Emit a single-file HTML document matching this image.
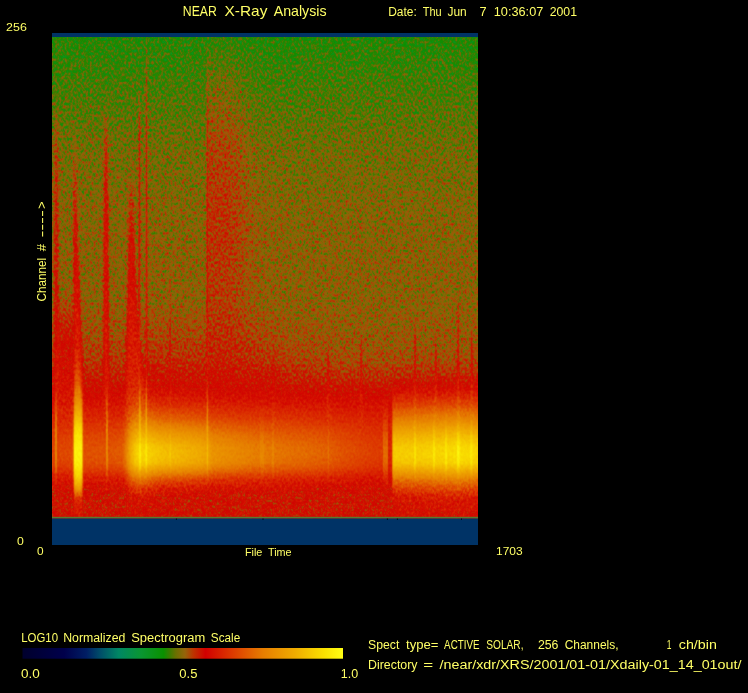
<!DOCTYPE html>
<html lang="en"><head><meta charset="utf-8"><title>NEAR X-Ray Analysis</title>
<style>
html,body{margin:0;padding:0;background:#000;width:748px;height:693px;overflow:hidden}
svg{display:block;position:absolute;left:0;top:0}
text{white-space:pre}
</style></head><body>
<svg width="748" height="693" viewBox="0 0 748 693">
<defs>
<linearGradient id="base" gradientUnits="userSpaceOnUse" x1="0" y1="33" x2="0" y2="545"><stop offset="0.0000" stop-color="rgb(113,64,0)"/><stop offset="0.0078" stop-color="rgb(113,64,0)"/><stop offset="0.0527" stop-color="rgb(115,64,0)"/><stop offset="0.1309" stop-color="rgb(119,64,0)"/><stop offset="0.2285" stop-color="rgb(124,61,0)"/><stop offset="0.3555" stop-color="rgb(127,56,0)"/><stop offset="0.5215" stop-color="rgb(128,54,0)"/><stop offset="0.5996" stop-color="rgb(130,54,0)"/><stop offset="0.6387" stop-color="rgb(132,51,0)"/><stop offset="0.6680" stop-color="rgb(137,46,0)"/><stop offset="0.6973" stop-color="rgb(144,41,0)"/><stop offset="0.7305" stop-color="rgb(152,33,0)"/><stop offset="0.7656" stop-color="rgb(156,26,0)"/><stop offset="0.7949" stop-color="rgb(158,23,0)"/><stop offset="0.8203" stop-color="rgb(159,23,0)"/><stop offset="0.8496" stop-color="rgb(156,26,0)"/><stop offset="0.8672" stop-color="rgb(150,36,0)"/><stop offset="0.8848" stop-color="rgb(147,56,0)"/><stop offset="0.9023" stop-color="rgb(145,66,0)"/><stop offset="0.9316" stop-color="rgb(145,64,0)"/><stop offset="0.9453" stop-color="rgb(145,51,0)"/><stop offset="1.0000" stop-color="rgb(145,51,0)"/></linearGradient>
<linearGradient id="L1v" gradientUnits="userSpaceOnUse" x1="0" y1="33" x2="0" y2="545"><stop offset="0.0000" stop-color="rgb(153,54,0)" stop-opacity="0.000"/><stop offset="0.0078" stop-color="rgb(153,54,0)" stop-opacity="0.100"/><stop offset="0.0723" stop-color="rgb(153,54,0)" stop-opacity="0.300"/><stop offset="0.1504" stop-color="rgb(153,54,0)" stop-opacity="0.500"/><stop offset="0.2285" stop-color="rgb(153,54,0)" stop-opacity="0.720"/><stop offset="0.3848" stop-color="rgb(153,54,0)" stop-opacity="0.800"/><stop offset="0.5605" stop-color="rgb(153,54,0)" stop-opacity="0.550"/><stop offset="0.6777" stop-color="rgb(153,54,0)" stop-opacity="0.300"/><stop offset="0.7559" stop-color="rgb(153,54,0)" stop-opacity="0.000"/><stop offset="1.0000" stop-color="rgb(153,54,0)" stop-opacity="0.000"/></linearGradient>
<linearGradient id="L1mg" gradientUnits="userSpaceOnUse" x1="52" y1="0" x2="478" y2="0"><stop offset="0.0000" stop-color="#fff" stop-opacity="0.000"/><stop offset="0.3603" stop-color="#fff" stop-opacity="0.000"/><stop offset="0.3650" stop-color="#fff" stop-opacity="0.500"/><stop offset="0.4131" stop-color="#fff" stop-opacity="0.500"/><stop offset="0.4413" stop-color="#fff" stop-opacity="0.340"/><stop offset="0.4648" stop-color="#fff" stop-opacity="0.180"/><stop offset="0.4930" stop-color="#fff" stop-opacity="0.070"/><stop offset="0.5822" stop-color="#fff" stop-opacity="0.000"/><stop offset="1.0000" stop-color="#fff" stop-opacity="0.000"/></linearGradient><mask id="L1m" maskUnits="userSpaceOnUse" x="52" y="33" width="426" height="512"><rect x="52" y="33" width="426" height="512" fill="url(#L1mg)"/></mask>
<linearGradient id="L2v" gradientUnits="userSpaceOnUse" x1="0" y1="33" x2="0" y2="545"><stop offset="0.0000" stop-color="rgb(158,43,0)" stop-opacity="0.000"/><stop offset="0.5215" stop-color="rgb(158,43,0)" stop-opacity="0.000"/><stop offset="0.6094" stop-color="rgb(158,43,0)" stop-opacity="0.250"/><stop offset="0.6680" stop-color="rgb(158,43,0)" stop-opacity="0.400"/><stop offset="0.7168" stop-color="rgb(158,43,0)" stop-opacity="0.200"/><stop offset="0.7559" stop-color="rgb(158,43,0)" stop-opacity="0.000"/><stop offset="1.0000" stop-color="rgb(158,43,0)" stop-opacity="0.000"/></linearGradient>
<linearGradient id="L2mg" gradientUnits="userSpaceOnUse" x1="52" y1="0" x2="478" y2="0"><stop offset="0.0000" stop-color="#fff" stop-opacity="0.500"/><stop offset="0.1714" stop-color="#fff" stop-opacity="0.500"/><stop offset="0.2300" stop-color="#fff" stop-opacity="0.800"/><stop offset="0.4883" stop-color="#fff" stop-opacity="0.700"/><stop offset="0.5822" stop-color="#fff" stop-opacity="0.300"/><stop offset="0.6761" stop-color="#fff" stop-opacity="0.100"/><stop offset="1.0000" stop-color="#fff" stop-opacity="0.000"/></linearGradient><mask id="L2m" maskUnits="userSpaceOnUse" x="52" y="33" width="426" height="512"><rect x="52" y="33" width="426" height="512" fill="url(#L2mg)"/></mask>
<linearGradient id="P3" gradientUnits="userSpaceOnUse" x1="0" y1="33" x2="0" y2="545"><stop offset="0.5020" stop-color="rgb(158,43,0)" stop-opacity="0.000"/><stop offset="0.5898" stop-color="rgb(158,43,0)" stop-opacity="0.450"/><stop offset="0.7559" stop-color="rgb(158,43,0)" stop-opacity="0.500"/><stop offset="0.7949" stop-color="rgb(158,43,0)" stop-opacity="0.000"/></linearGradient>
<linearGradient id="P4" gradientUnits="userSpaceOnUse" x1="0" y1="33" x2="0" y2="545"><stop offset="0.1211" stop-color="rgb(158,43,0)" stop-opacity="0.000"/><stop offset="0.2285" stop-color="rgb(158,43,0)" stop-opacity="0.400"/><stop offset="0.5215" stop-color="rgb(158,43,0)" stop-opacity="0.650"/><stop offset="0.7559" stop-color="rgb(158,43,0)" stop-opacity="0.800"/><stop offset="0.7949" stop-color="rgb(158,43,0)" stop-opacity="0.000"/></linearGradient>
<linearGradient id="P5" gradientUnits="userSpaceOnUse" x1="0" y1="33" x2="0" y2="545"><stop offset="0.1895" stop-color="rgb(158,43,0)" stop-opacity="0.000"/><stop offset="0.2871" stop-color="rgb(158,43,0)" stop-opacity="0.400"/><stop offset="0.4043" stop-color="rgb(158,43,0)" stop-opacity="0.650"/><stop offset="0.5801" stop-color="rgb(158,43,0)" stop-opacity="0.900"/><stop offset="0.7656" stop-color="rgb(158,43,0)" stop-opacity="1.000"/><stop offset="0.7949" stop-color="rgb(158,43,0)" stop-opacity="0.000"/></linearGradient>
<linearGradient id="P6" gradientUnits="userSpaceOnUse" x1="0" y1="33" x2="0" y2="545"><stop offset="0.1309" stop-color="rgb(158,43,0)" stop-opacity="0.000"/><stop offset="0.2090" stop-color="rgb(158,43,0)" stop-opacity="0.500"/><stop offset="0.4043" stop-color="rgb(158,43,0)" stop-opacity="0.850"/><stop offset="0.7559" stop-color="rgb(158,43,0)" stop-opacity="0.900"/><stop offset="0.7949" stop-color="rgb(158,43,0)" stop-opacity="0.000"/></linearGradient>
<linearGradient id="P7" gradientUnits="userSpaceOnUse" x1="0" y1="33" x2="0" y2="545"><stop offset="0.2480" stop-color="rgb(158,43,0)" stop-opacity="0.000"/><stop offset="0.4043" stop-color="rgb(158,43,0)" stop-opacity="0.600"/><stop offset="0.5801" stop-color="rgb(158,43,0)" stop-opacity="0.850"/><stop offset="0.7656" stop-color="rgb(158,43,0)" stop-opacity="1.000"/><stop offset="0.7949" stop-color="rgb(158,43,0)" stop-opacity="0.000"/></linearGradient>
<linearGradient id="P8" gradientUnits="userSpaceOnUse" x1="0" y1="33" x2="0" y2="545"><stop offset="0.1035" stop-color="rgb(158,43,0)" stop-opacity="0.000"/><stop offset="0.1699" stop-color="rgb(158,43,0)" stop-opacity="0.500"/><stop offset="0.5215" stop-color="rgb(158,43,0)" stop-opacity="0.850"/><stop offset="0.7559" stop-color="rgb(158,43,0)" stop-opacity="0.900"/><stop offset="0.7949" stop-color="rgb(158,43,0)" stop-opacity="0.000"/></linearGradient>
<linearGradient id="P9" gradientUnits="userSpaceOnUse" x1="0" y1="33" x2="0" y2="545"><stop offset="0.0078" stop-color="rgb(158,43,0)" stop-opacity="0.150"/><stop offset="0.0723" stop-color="rgb(158,43,0)" stop-opacity="0.400"/><stop offset="0.2285" stop-color="rgb(158,43,0)" stop-opacity="0.600"/><stop offset="0.5215" stop-color="rgb(158,43,0)" stop-opacity="0.800"/><stop offset="0.7559" stop-color="rgb(158,43,0)" stop-opacity="0.900"/><stop offset="0.7949" stop-color="rgb(158,43,0)" stop-opacity="0.000"/></linearGradient>
<linearGradient id="P10" gradientUnits="userSpaceOnUse" x1="0" y1="33" x2="0" y2="545"><stop offset="0.0078" stop-color="rgb(158,43,0)" stop-opacity="0.050"/><stop offset="0.1309" stop-color="rgb(158,43,0)" stop-opacity="0.250"/><stop offset="0.5215" stop-color="rgb(158,43,0)" stop-opacity="0.600"/><stop offset="0.7559" stop-color="rgb(158,43,0)" stop-opacity="0.850"/><stop offset="0.7949" stop-color="rgb(158,43,0)" stop-opacity="0.000"/></linearGradient>
<linearGradient id="P11" gradientUnits="userSpaceOnUse" x1="0" y1="33" x2="0" y2="545"><stop offset="0.4238" stop-color="rgb(158,43,0)" stop-opacity="0.000"/><stop offset="0.5996" stop-color="rgb(158,43,0)" stop-opacity="0.400"/><stop offset="0.7559" stop-color="rgb(158,43,0)" stop-opacity="0.600"/><stop offset="0.7949" stop-color="rgb(158,43,0)" stop-opacity="0.000"/></linearGradient>
<linearGradient id="P12" gradientUnits="userSpaceOnUse" x1="0" y1="33" x2="0" y2="545"><stop offset="0.5996" stop-color="rgb(158,43,0)" stop-opacity="0.000"/><stop offset="0.6582" stop-color="rgb(158,43,0)" stop-opacity="0.400"/><stop offset="0.7656" stop-color="rgb(158,43,0)" stop-opacity="0.500"/><stop offset="0.7949" stop-color="rgb(158,43,0)" stop-opacity="0.000"/></linearGradient>
<linearGradient id="P13" gradientUnits="userSpaceOnUse" x1="0" y1="33" x2="0" y2="545"><stop offset="0.5898" stop-color="rgb(158,43,0)" stop-opacity="0.000"/><stop offset="0.6484" stop-color="rgb(158,43,0)" stop-opacity="0.560"/><stop offset="0.7656" stop-color="rgb(158,43,0)" stop-opacity="0.700"/><stop offset="0.7949" stop-color="rgb(158,43,0)" stop-opacity="0.000"/></linearGradient>
<linearGradient id="P14" gradientUnits="userSpaceOnUse" x1="0" y1="33" x2="0" y2="545"><stop offset="0.5703" stop-color="rgb(158,43,0)" stop-opacity="0.000"/><stop offset="0.6289" stop-color="rgb(158,43,0)" stop-opacity="0.520"/><stop offset="0.7656" stop-color="rgb(158,43,0)" stop-opacity="0.650"/><stop offset="0.7949" stop-color="rgb(158,43,0)" stop-opacity="0.000"/></linearGradient>
<linearGradient id="P15" gradientUnits="userSpaceOnUse" x1="0" y1="33" x2="0" y2="545"><stop offset="0.5410" stop-color="rgb(158,43,0)" stop-opacity="0.000"/><stop offset="0.5996" stop-color="rgb(158,43,0)" stop-opacity="0.520"/><stop offset="0.7656" stop-color="rgb(158,43,0)" stop-opacity="0.650"/><stop offset="0.7949" stop-color="rgb(158,43,0)" stop-opacity="0.000"/></linearGradient>
<linearGradient id="P16" gradientUnits="userSpaceOnUse" x1="0" y1="33" x2="0" y2="545"><stop offset="0.5703" stop-color="rgb(158,43,0)" stop-opacity="0.000"/><stop offset="0.6289" stop-color="rgb(158,43,0)" stop-opacity="0.560"/><stop offset="0.7656" stop-color="rgb(158,43,0)" stop-opacity="0.700"/><stop offset="0.7949" stop-color="rgb(158,43,0)" stop-opacity="0.000"/></linearGradient>
<linearGradient id="P17" gradientUnits="userSpaceOnUse" x1="0" y1="33" x2="0" y2="545"><stop offset="0.5117" stop-color="rgb(158,43,0)" stop-opacity="0.000"/><stop offset="0.5703" stop-color="rgb(158,43,0)" stop-opacity="0.600"/><stop offset="0.7656" stop-color="rgb(158,43,0)" stop-opacity="0.750"/><stop offset="0.7949" stop-color="rgb(158,43,0)" stop-opacity="0.000"/></linearGradient>
<linearGradient id="P18" gradientUnits="userSpaceOnUse" x1="0" y1="33" x2="0" y2="545"><stop offset="0.5605" stop-color="rgb(158,43,0)" stop-opacity="0.000"/><stop offset="0.6191" stop-color="rgb(158,43,0)" stop-opacity="0.560"/><stop offset="0.7656" stop-color="rgb(158,43,0)" stop-opacity="0.700"/><stop offset="0.7949" stop-color="rgb(158,43,0)" stop-opacity="0.000"/></linearGradient>
<linearGradient id="L19v" gradientUnits="userSpaceOnUse" x1="0" y1="33" x2="0" y2="545"><stop offset="0.0000" stop-color="rgb(217,20,0)" stop-opacity="0.000"/><stop offset="0.5996" stop-color="rgb(217,20,0)" stop-opacity="0.000"/><stop offset="0.6680" stop-color="rgb(217,20,0)" stop-opacity="0.080"/><stop offset="0.7129" stop-color="rgb(217,20,0)" stop-opacity="0.300"/><stop offset="0.7461" stop-color="rgb(217,20,0)" stop-opacity="0.700"/><stop offset="0.7793" stop-color="rgb(217,20,0)" stop-opacity="1.000"/><stop offset="0.8691" stop-color="rgb(217,20,0)" stop-opacity="1.000"/><stop offset="0.8926" stop-color="rgb(217,20,0)" stop-opacity="0.750"/><stop offset="0.9121" stop-color="rgb(217,20,0)" stop-opacity="0.350"/><stop offset="0.9453" stop-color="rgb(217,20,0)" stop-opacity="0.150"/><stop offset="1.0000" stop-color="rgb(217,20,0)" stop-opacity="0.150"/></linearGradient>
<linearGradient id="L19mg" gradientUnits="userSpaceOnUse" x1="52" y1="0" x2="478" y2="0"><stop offset="0.0000" stop-color="#fff" stop-opacity="0.000"/><stop offset="0.0500" stop-color="#fff" stop-opacity="0.000"/><stop offset="0.0528" stop-color="#fff" stop-opacity="0.600"/><stop offset="0.0697" stop-color="#fff" stop-opacity="0.600"/><stop offset="0.0728" stop-color="#fff" stop-opacity="0.000"/><stop offset="0.1690" stop-color="#fff" stop-opacity="0.000"/><stop offset="0.1854" stop-color="#fff" stop-opacity="0.200"/><stop offset="0.2066" stop-color="#fff" stop-opacity="0.300"/><stop offset="0.2230" stop-color="#fff" stop-opacity="0.220"/><stop offset="0.2535" stop-color="#fff" stop-opacity="0.080"/><stop offset="0.3709" stop-color="#fff" stop-opacity="0.030"/><stop offset="0.7700" stop-color="#fff" stop-opacity="0.000"/><stop offset="0.7981" stop-color="#fff" stop-opacity="0.000"/><stop offset="0.8000" stop-color="#fff" stop-opacity="0.300"/><stop offset="0.9531" stop-color="#fff" stop-opacity="0.400"/><stop offset="1.0000" stop-color="#fff" stop-opacity="0.330"/></linearGradient><mask id="L19m" maskUnits="userSpaceOnUse" x="52" y="33" width="426" height="512"><rect x="52" y="33" width="426" height="512" fill="url(#L19mg)"/></mask>
<linearGradient id="L20v" gradientUnits="userSpaceOnUse" x1="0" y1="33" x2="0" y2="545"><stop offset="0.0000" stop-color="rgb(255,13,0)" stop-opacity="0.000"/><stop offset="0.6875" stop-color="rgb(255,13,0)" stop-opacity="0.000"/><stop offset="0.7266" stop-color="rgb(255,13,0)" stop-opacity="0.140"/><stop offset="0.7559" stop-color="rgb(255,13,0)" stop-opacity="0.380"/><stop offset="0.7852" stop-color="rgb(255,13,0)" stop-opacity="0.750"/><stop offset="0.8086" stop-color="rgb(255,13,0)" stop-opacity="0.970"/><stop offset="0.8242" stop-color="rgb(255,13,0)" stop-opacity="1.000"/><stop offset="0.8398" stop-color="rgb(255,13,0)" stop-opacity="0.940"/><stop offset="0.8574" stop-color="rgb(255,13,0)" stop-opacity="0.620"/><stop offset="0.8730" stop-color="rgb(255,13,0)" stop-opacity="0.300"/><stop offset="0.8887" stop-color="rgb(255,13,0)" stop-opacity="0.100"/><stop offset="0.9062" stop-color="rgb(255,13,0)" stop-opacity="0.000"/><stop offset="1.0000" stop-color="rgb(255,13,0)" stop-opacity="0.000"/></linearGradient>
<linearGradient id="L20mg" gradientUnits="userSpaceOnUse" x1="52" y1="0" x2="478" y2="0"><stop offset="0.0000" stop-color="#fff" stop-opacity="0.133"/><stop offset="0.0063" stop-color="#fff" stop-opacity="0.133"/><stop offset="0.0082" stop-color="#fff" stop-opacity="0.360"/><stop offset="0.0106" stop-color="#fff" stop-opacity="0.360"/><stop offset="0.0124" stop-color="#fff" stop-opacity="0.133"/><stop offset="0.0500" stop-color="#fff" stop-opacity="0.147"/><stop offset="0.0528" stop-color="#fff" stop-opacity="0.933"/><stop offset="0.0697" stop-color="#fff" stop-opacity="0.933"/><stop offset="0.0728" stop-color="#fff" stop-opacity="0.173"/><stop offset="0.1268" stop-color="#fff" stop-opacity="0.187"/><stop offset="0.1279" stop-color="#fff" stop-opacity="0.387"/><stop offset="0.1303" stop-color="#fff" stop-opacity="0.387"/><stop offset="0.1315" stop-color="#fff" stop-opacity="0.187"/><stop offset="0.1643" stop-color="#fff" stop-opacity="0.213"/><stop offset="0.1737" stop-color="#fff" stop-opacity="0.333"/><stop offset="0.1831" stop-color="#fff" stop-opacity="0.520"/><stop offset="0.1948" stop-color="#fff" stop-opacity="0.693"/><stop offset="0.2031" stop-color="#fff" stop-opacity="0.747"/><stop offset="0.2042" stop-color="#fff" stop-opacity="0.880"/><stop offset="0.2080" stop-color="#fff" stop-opacity="0.880"/><stop offset="0.2092" stop-color="#fff" stop-opacity="0.747"/><stop offset="0.2188" stop-color="#fff" stop-opacity="0.747"/><stop offset="0.2200" stop-color="#fff" stop-opacity="0.867"/><stop offset="0.2228" stop-color="#fff" stop-opacity="0.867"/><stop offset="0.2239" stop-color="#fff" stop-opacity="0.747"/><stop offset="0.2347" stop-color="#fff" stop-opacity="0.720"/><stop offset="0.2754" stop-color="#fff" stop-opacity="0.667"/><stop offset="0.2765" stop-color="#fff" stop-opacity="0.733"/><stop offset="0.2789" stop-color="#fff" stop-opacity="0.733"/><stop offset="0.2800" stop-color="#fff" stop-opacity="0.667"/><stop offset="0.3474" stop-color="#fff" stop-opacity="0.587"/><stop offset="0.3624" stop-color="#fff" stop-opacity="0.547"/><stop offset="0.3636" stop-color="#fff" stop-opacity="0.680"/><stop offset="0.3660" stop-color="#fff" stop-opacity="0.680"/><stop offset="0.3671" stop-color="#fff" stop-opacity="0.547"/><stop offset="0.3756" stop-color="#fff" stop-opacity="0.467"/><stop offset="0.4765" stop-color="#fff" stop-opacity="0.347"/><stop offset="0.4883" stop-color="#fff" stop-opacity="0.347"/><stop offset="0.4894" stop-color="#fff" stop-opacity="0.400"/><stop offset="0.4965" stop-color="#fff" stop-opacity="0.400"/><stop offset="0.4977" stop-color="#fff" stop-opacity="0.347"/><stop offset="0.5164" stop-color="#fff" stop-opacity="0.320"/><stop offset="0.5176" stop-color="#fff" stop-opacity="0.387"/><stop offset="0.5200" stop-color="#fff" stop-opacity="0.387"/><stop offset="0.5211" stop-color="#fff" stop-opacity="0.320"/><stop offset="0.6462" stop-color="#fff" stop-opacity="0.227"/><stop offset="0.6474" stop-color="#fff" stop-opacity="0.307"/><stop offset="0.6498" stop-color="#fff" stop-opacity="0.307"/><stop offset="0.6509" stop-color="#fff" stop-opacity="0.227"/><stop offset="0.6878" stop-color="#fff" stop-opacity="0.173"/><stop offset="0.7512" stop-color="#fff" stop-opacity="0.107"/><stop offset="0.7758" stop-color="#fff" stop-opacity="0.093"/><stop offset="0.7770" stop-color="#fff" stop-opacity="0.280"/><stop offset="0.7887" stop-color="#fff" stop-opacity="0.280"/><stop offset="0.7899" stop-color="#fff" stop-opacity="0.000"/><stop offset="0.7981" stop-color="#fff" stop-opacity="0.000"/><stop offset="0.8000" stop-color="#fff" stop-opacity="0.693"/><stop offset="0.8495" stop-color="#fff" stop-opacity="0.693"/><stop offset="0.8507" stop-color="#fff" stop-opacity="0.813"/><stop offset="0.8545" stop-color="#fff" stop-opacity="0.813"/><stop offset="0.8556" stop-color="#fff" stop-opacity="0.693"/><stop offset="0.8944" stop-color="#fff" stop-opacity="0.720"/><stop offset="0.8955" stop-color="#fff" stop-opacity="0.840"/><stop offset="0.8993" stop-color="#fff" stop-opacity="0.840"/><stop offset="0.9005" stop-color="#fff" stop-opacity="0.720"/><stop offset="0.9225" stop-color="#fff" stop-opacity="0.733"/><stop offset="0.9237" stop-color="#fff" stop-opacity="0.853"/><stop offset="0.9275" stop-color="#fff" stop-opacity="0.853"/><stop offset="0.9286" stop-color="#fff" stop-opacity="0.733"/><stop offset="0.9502" stop-color="#fff" stop-opacity="0.773"/><stop offset="0.9514" stop-color="#fff" stop-opacity="0.920"/><stop offset="0.9561" stop-color="#fff" stop-opacity="0.920"/><stop offset="0.9573" stop-color="#fff" stop-opacity="0.773"/><stop offset="0.9815" stop-color="#fff" stop-opacity="0.747"/><stop offset="0.9826" stop-color="#fff" stop-opacity="0.867"/><stop offset="0.9864" stop-color="#fff" stop-opacity="0.867"/><stop offset="0.9876" stop-color="#fff" stop-opacity="0.747"/><stop offset="1.0000" stop-color="#fff" stop-opacity="0.733"/></linearGradient><mask id="L20m" maskUnits="userSpaceOnUse" x="52" y="33" width="426" height="512"><rect x="52" y="33" width="426" height="512" fill="url(#L20mg)"/></mask>
<linearGradient id="P21" gradientUnits="userSpaceOnUse" x1="0" y1="33" x2="0" y2="545"><stop offset="0.6094" stop-color="rgb(245,13,0)" stop-opacity="0.000"/><stop offset="0.6582" stop-color="rgb(245,13,0)" stop-opacity="0.150"/><stop offset="0.7070" stop-color="rgb(245,13,0)" stop-opacity="0.300"/><stop offset="0.7559" stop-color="rgb(245,13,0)" stop-opacity="0.450"/><stop offset="0.7949" stop-color="rgb(245,13,0)" stop-opacity="0.600"/><stop offset="0.8535" stop-color="rgb(245,13,0)" stop-opacity="0.600"/><stop offset="0.8828" stop-color="rgb(245,13,0)" stop-opacity="0.450"/><stop offset="0.9004" stop-color="rgb(245,13,0)" stop-opacity="0.150"/><stop offset="0.9121" stop-color="rgb(245,13,0)" stop-opacity="0.000"/></linearGradient>
<linearGradient id="P22" gradientUnits="userSpaceOnUse" x1="0" y1="33" x2="0" y2="545"><stop offset="0.6680" stop-color="rgb(230,13,0)" stop-opacity="0.000"/><stop offset="0.7168" stop-color="rgb(230,13,0)" stop-opacity="0.350"/><stop offset="0.7656" stop-color="rgb(230,13,0)" stop-opacity="0.600"/><stop offset="0.8047" stop-color="rgb(230,13,0)" stop-opacity="0.000"/></linearGradient>
<linearGradient id="P23" gradientUnits="userSpaceOnUse" x1="0" y1="33" x2="0" y2="545"><stop offset="0.6680" stop-color="rgb(230,13,0)" stop-opacity="0.000"/><stop offset="0.7168" stop-color="rgb(230,13,0)" stop-opacity="0.350"/><stop offset="0.7656" stop-color="rgb(230,13,0)" stop-opacity="0.600"/><stop offset="0.8047" stop-color="rgb(230,13,0)" stop-opacity="0.000"/></linearGradient>
<linearGradient id="P24" gradientUnits="userSpaceOnUse" x1="0" y1="33" x2="0" y2="545"><stop offset="0.6875" stop-color="rgb(230,13,0)" stop-opacity="0.000"/><stop offset="0.7363" stop-color="rgb(230,13,0)" stop-opacity="0.300"/><stop offset="0.7754" stop-color="rgb(230,13,0)" stop-opacity="0.400"/><stop offset="0.8047" stop-color="rgb(230,13,0)" stop-opacity="0.000"/></linearGradient>
<linearGradient id="P25" gradientUnits="userSpaceOnUse" x1="0" y1="33" x2="0" y2="545"><stop offset="0.6875" stop-color="rgb(230,13,0)" stop-opacity="0.000"/><stop offset="0.7363" stop-color="rgb(230,13,0)" stop-opacity="0.300"/><stop offset="0.7754" stop-color="rgb(230,13,0)" stop-opacity="0.400"/><stop offset="0.8047" stop-color="rgb(230,13,0)" stop-opacity="0.000"/></linearGradient>
<linearGradient id="P26" gradientUnits="userSpaceOnUse" x1="0" y1="33" x2="0" y2="545"><stop offset="0.6777" stop-color="rgb(230,13,0)" stop-opacity="0.000"/><stop offset="0.7363" stop-color="rgb(230,13,0)" stop-opacity="0.350"/><stop offset="0.7754" stop-color="rgb(230,13,0)" stop-opacity="0.450"/><stop offset="0.8047" stop-color="rgb(230,13,0)" stop-opacity="0.000"/></linearGradient>
<linearGradient id="cbar" x1="0" y1="0" x2="1" y2="0"><stop offset="0.000" stop-color="rgb(0,0,45)"/><stop offset="0.130" stop-color="rgb(0,0,75)"/><stop offset="0.200" stop-color="rgb(0,30,100)"/><stop offset="0.240" stop-color="rgb(0,75,105)"/><stop offset="0.300" stop-color="rgb(0,135,100)"/><stop offset="0.370" stop-color="rgb(10,150,50)"/><stop offset="0.440" stop-color="rgb(10,145,0)"/><stop offset="0.462" stop-color="rgb(65,122,0)"/><stop offset="0.478" stop-color="rgb(105,112,0)"/><stop offset="0.507" stop-color="rgb(150,100,10)"/><stop offset="0.534" stop-color="rgb(190,50,0)"/><stop offset="0.571" stop-color="rgb(210,0,0)"/><stop offset="0.644" stop-color="rgb(220,50,0)"/><stop offset="0.750" stop-color="rgb(230,125,0)"/><stop offset="0.850" stop-color="rgb(240,172,0)"/><stop offset="0.940" stop-color="rgb(250,225,0)"/><stop offset="1.000" stop-color="rgb(255,255,20)"/></linearGradient>
<filter id="hb1" x="52" y="33" width="426" height="512" filterUnits="userSpaceOnUse"><feGaussianBlur stdDeviation="1 0"/></filter>
<filter id="spec" x="52" y="33" width="426" height="512" filterUnits="userSpaceOnUse" color-interpolation-filters="sRGB">
<feTurbulence type="fractalNoise" baseFrequency="0.52 0.34" numOctaves="2" seed="7" result="t"/>
<feColorMatrix in="t" type="matrix" values="1 0 0 0 0  1 0 0 0 0  1 0 0 0 0  0 0 0 0 1" result="n"/>
<feColorMatrix in="SourceGraphic" type="matrix" values="1 0 0 0 0  1 0 0 0 0  1 0 0 0 0  0 0 0 0 1" result="v"/>
<feColorMatrix in="SourceGraphic" type="matrix" values="0 1 0 0 0  0 1 0 0 0  0 1 0 0 0  0 0 0 0 1" result="a"/>
<feComposite in="a" in2="n" operator="arithmetic" k1="1" k2="0" k3="0" k4="0" result="an"/>
<feComposite in="v" in2="a" operator="arithmetic" k1="0" k2="1" k3="-0.475" k4="0" result="v0"/>
<feComposite in="v0" in2="an" operator="arithmetic" k1="0" k2="1" k3="0.950" k4="0" result="vn"/>
<feComponentTransfer in="vn">
<feFuncR type="table" tableValues="0.000 0.000 0.000 0.000 0.000 0.000 0.000 0.000 0.000 0.000 0.000 0.000 0.000 0.000 0.000 0.000 0.000 0.000 0.000 0.000 0.000 0.000 0.000 0.000 0.000 0.000 0.000 0.000 0.000 0.000 0.000 0.006 0.011 0.017 0.022 0.028 0.034 0.039 0.039 0.039 0.039 0.039 0.039 0.039 0.039 0.137 0.235 0.333 0.424 0.485 0.546 0.606 0.664 0.722 0.758 0.779 0.800 0.821 0.828 0.834 0.839 0.844 0.850 0.855 0.861 0.865 0.869 0.872 0.876 0.880 0.883 0.887 0.891 0.895 0.898 0.902 0.906 0.910 0.914 0.918 0.922 0.925 0.929 0.933 0.937 0.941 0.946 0.950 0.954 0.959 0.963 0.967 0.972 0.976 0.980 0.984 0.987 0.990 0.993 0.997 1.000"/>
<feFuncG type="table" tableValues="0.000 0.000 0.000 0.000 0.000 0.000 0.000 0.000 0.000 0.000 0.000 0.000 0.000 0.000 0.017 0.034 0.050 0.067 0.084 0.101 0.118 0.162 0.206 0.250 0.294 0.333 0.373 0.412 0.451 0.490 0.529 0.538 0.546 0.555 0.563 0.571 0.580 0.588 0.585 0.583 0.580 0.577 0.574 0.571 0.569 0.528 0.487 0.459 0.436 0.420 0.404 0.370 0.298 0.225 0.164 0.111 0.058 0.005 0.024 0.051 0.078 0.105 0.132 0.158 0.185 0.213 0.240 0.268 0.296 0.324 0.351 0.379 0.407 0.435 0.462 0.490 0.509 0.527 0.545 0.564 0.582 0.601 0.619 0.638 0.656 0.675 0.698 0.721 0.744 0.767 0.790 0.813 0.836 0.859 0.882 0.902 0.922 0.941 0.961 0.980 1.000"/>
<feFuncB type="table" tableValues="0.176 0.186 0.195 0.204 0.213 0.222 0.231 0.240 0.249 0.258 0.267 0.276 0.285 0.294 0.308 0.322 0.336 0.350 0.364 0.378 0.392 0.397 0.402 0.407 0.412 0.408 0.405 0.402 0.399 0.395 0.392 0.364 0.336 0.308 0.280 0.252 0.224 0.196 0.168 0.140 0.112 0.084 0.056 0.028 0.000 0.000 0.000 0.000 0.003 0.016 0.030 0.035 0.020 0.006 0.000 0.000 0.000 0.000 0.000 0.000 0.000 0.000 0.000 0.000 0.000 0.000 0.000 0.000 0.000 0.000 0.000 0.000 0.000 0.000 0.000 0.000 0.000 0.000 0.000 0.000 0.000 0.000 0.000 0.000 0.000 0.000 0.000 0.000 0.000 0.000 0.000 0.000 0.000 0.000 0.000 0.013 0.026 0.039 0.052 0.065 0.078"/>
</feComponentTransfer>
<feConvolveMatrix order="3" kernelMatrix="1 2 1 2 12 2 1 2 1" divisor="24" edgeMode="duplicate" preserveAlpha="true"/>
</filter>
</defs>
<rect width="748" height="693" fill="#000"/>
<g filter="url(#spec)">
<rect x="52" y="33" width="426" height="512" fill="url(#base)"/>
<rect x="52" y="33" width="426" height="512" fill="url(#L1v)" mask="url(#L1m)"/>
<rect x="52" y="33" width="426" height="512" fill="url(#L2v)" mask="url(#L2m)"/>
<polygon points="57.0,290.0 73.0,290.0 73.0,440.0 57.0,440.0" fill="url(#P3)"/>
<polygon points="54.6,95.0 58.2,95.0 58.2,440.0 54.6,440.0" fill="url(#P4)" filter="url(#hb1)"/>
<polygon points="73.7,130.0 76.0,130.0 77.5,240.0 80.0,300.0 82.0,360.0 83.0,420.0 83.0,440.0 73.7,440.0" fill="url(#P5)" filter="url(#hb1)"/>
<polygon points="104.8,100.0 107.2,100.0 108.0,240.0 108.8,420.0 108.8,440.0 104.0,440.0 104.0,240.0" fill="url(#P6)" filter="url(#hb1)"/>
<polygon points="129.0,160.0 133.0,160.0 134.5,240.0 138.0,330.0 146.0,400.0 147.0,440.0 125.0,440.0 125.5,400.0 127.0,330.0 128.5,240.0" fill="url(#P7)" filter="url(#hb1)"/>
<polygon points="138.6,86.0 140.2,86.0 140.2,440.0 138.6,440.0" fill="url(#P8)"/>
<polygon points="145.8,37.0 147.3,37.0 147.3,440.0 145.8,440.0" fill="url(#P9)"/>
<polygon points="206.7,37.0 208.0,37.0 208.0,440.0 206.7,440.0" fill="url(#P10)"/>
<polygon points="169.6,250.0 171.0,250.0 171.0,440.0 169.6,440.0" fill="url(#P11)"/>
<polygon points="272.9,340.0 274.1,340.0 274.5,380.0 275.3,425.0 275.3,440.0 271.7,440.0 271.7,425.0 272.5,380.0" fill="url(#P12)"/>
<polygon points="327.8,335.0 329.0,335.0 329.4,380.0 330.8,425.0 330.8,440.0 326.0,440.0 326.0,425.0 327.4,380.0" fill="url(#P13)"/>
<polygon points="360.7,325.0 361.9,325.0 362.3,380.0 363.7,425.0 363.7,440.0 358.9,440.0 358.9,425.0 360.3,380.0" fill="url(#P14)"/>
<polygon points="414.4,310.0 415.6,310.0 416.0,380.0 416.8,425.0 416.8,440.0 413.2,440.0 413.2,425.0 414.0,380.0" fill="url(#P15)"/>
<polygon points="435.4,325.0 436.6,325.0 437.0,380.0 438.1,425.0 438.1,440.0 433.9,440.0 433.9,425.0 435.0,380.0" fill="url(#P16)"/>
<polygon points="457.7,295.0 458.9,295.0 459.3,380.0 460.4,425.0 460.4,440.0 456.2,440.0 456.2,425.0 457.3,380.0" fill="url(#P17)"/>
<polygon points="471.1,320.0 472.3,320.0 472.7,380.0 473.8,425.0 473.8,440.0 469.6,440.0 469.6,425.0 470.7,380.0" fill="url(#P18)"/>
<rect x="52" y="33" width="426" height="512" fill="url(#L19v)" mask="url(#L19m)"/>
<rect x="52" y="33" width="426" height="512" fill="url(#L20v)" mask="url(#L20m)"/>
<polygon points="75.0,345.0 78.0,345.0 81.8,400.0 82.2,500.0 74.2,500.0 74.2,400.0" fill="url(#P21)" filter="url(#hb1)"/>
<polygon points="138.9,375.0 140.7,375.0 140.7,445.0 138.9,445.0" fill="url(#P22)"/>
<polygon points="145.6,375.0 147.0,375.0 147.0,445.0 145.6,445.0" fill="url(#P23)"/>
<polygon points="55.3,385.0 56.7,385.0 56.7,445.0 55.3,445.0" fill="url(#P24)"/>
<polygon points="106.3,385.0 107.7,385.0 107.7,445.0 106.3,445.0" fill="url(#P25)"/>
<polygon points="206.7,380.0 208.1,380.0 208.1,445.0 206.7,445.0" fill="url(#P26)"/>
</g>
<rect x="52" y="33" width="426" height="4" fill="#003366"/>
<rect x="52" y="516.8" width="426" height="1.7" fill="#5a7a30"/>
<rect x="52" y="518.5" width="426" height="26.5" fill="#003366"/>
<rect x="175.9" y="518.5" width="1" height="1.5" fill="#001020"/>
<rect x="262.5" y="518.5" width="1" height="1.5" fill="#001020"/>
<rect x="386.9" y="518.5" width="1" height="1.5" fill="#001020"/>
<rect x="396.9" y="518.5" width="1" height="1.5" fill="#001020"/>
<rect x="461.0" y="518.5" width="1" height="1.5" fill="#001020"/>
<rect x="22.5" y="648" width="320.5" height="10.7" fill="url(#cbar)"/>
<g font-family="&quot;Liberation Sans&quot;, sans-serif" fill="#ffff66">
<text y="15.8" font-size="13.9" xml:space="preserve"><tspan x="182.8" textLength="34.0" lengthAdjust="spacingAndGlyphs">NEAR</tspan> <tspan x="224.6" textLength="42.8" lengthAdjust="spacingAndGlyphs">X-Ray</tspan> <tspan x="273.7" textLength="52.9" lengthAdjust="spacingAndGlyphs">Analysis</tspan></text>
<text y="15.8" font-size="12" xml:space="preserve"><tspan x="388.2" textLength="28.6" lengthAdjust="spacingAndGlyphs">Date:</tspan> <tspan x="422.8" textLength="18.9" lengthAdjust="spacingAndGlyphs">Thu</tspan> <tspan x="447.5" textLength="19.2" lengthAdjust="spacingAndGlyphs">Jun</tspan>  <tspan x="479.5" textLength="7.1" lengthAdjust="spacingAndGlyphs">7</tspan> <tspan x="493.8" textLength="49.5" lengthAdjust="spacingAndGlyphs">10:36:07</tspan> <tspan x="549.7" textLength="27.3" lengthAdjust="spacingAndGlyphs">2001</tspan></text>
<text y="31.2" font-size="11.7" xml:space="preserve"><tspan x="6.1" textLength="20.7" lengthAdjust="spacingAndGlyphs">256</tspan></text>
<text y="545.2" font-size="11.5" xml:space="preserve"><tspan x="17.1" textLength="6.8" lengthAdjust="spacingAndGlyphs">0</tspan></text>
<text y="555.3" font-size="11.5" xml:space="preserve"><tspan x="37.1" textLength="6.6" lengthAdjust="spacingAndGlyphs">0</tspan></text>
<text y="555.8" font-size="11" xml:space="preserve"><tspan x="244.9" textLength="17.5" lengthAdjust="spacingAndGlyphs">File</tspan> <tspan x="268.0" textLength="23.6" lengthAdjust="spacingAndGlyphs">Time</tspan></text>
<text y="555.2" font-size="11.5" xml:space="preserve"><tspan x="496.0" textLength="26.7" lengthAdjust="spacingAndGlyphs">1703</tspan></text>
<text y="0.0" font-size="12" transform="translate(46,301) rotate(-90)" xml:space="preserve"><tspan x="-0.5" textLength="43.6" lengthAdjust="spacingAndGlyphs">Channel</tspan> <tspan x="49.7" textLength="7.3" lengthAdjust="spacingAndGlyphs">#</tspan> <tspan x="63.5" textLength="27.2" lengthAdjust="spacingAndGlyphs">----</tspan> <tspan x="92.1" textLength="7.6" lengthAdjust="spacingAndGlyphs">&gt;</tspan></text>
<text y="642.0" font-size="12" xml:space="preserve"><tspan x="21.2" textLength="36.8" lengthAdjust="spacingAndGlyphs">LOG10</tspan> <tspan x="63.2" textLength="62.2" lengthAdjust="spacingAndGlyphs">Normalized</tspan> <tspan x="131.2" textLength="74.0" lengthAdjust="spacingAndGlyphs">Spectrogram</tspan> <tspan x="210.8" textLength="29.4" lengthAdjust="spacingAndGlyphs">Scale</tspan></text>
<text y="677.9" font-size="12" xml:space="preserve"><tspan x="21.0" textLength="18.8" lengthAdjust="spacingAndGlyphs">0.0</tspan></text>
<text y="677.9" font-size="12" xml:space="preserve"><tspan x="179.3" textLength="18.1" lengthAdjust="spacingAndGlyphs">0.5</tspan></text>
<text y="677.9" font-size="12" xml:space="preserve"><tspan x="340.8" textLength="17.4" lengthAdjust="spacingAndGlyphs">1.0</tspan></text>
<text y="649.3" font-size="12" xml:space="preserve"><tspan x="368.1" textLength="31.2" lengthAdjust="spacingAndGlyphs">Spect</tspan> <tspan x="406.1" textLength="32.4" lengthAdjust="spacingAndGlyphs">type=</tspan> <tspan x="444.1" textLength="35.4" lengthAdjust="spacingAndGlyphs">ACTIVE</tspan> <tspan x="486.3" textLength="37.2" lengthAdjust="spacingAndGlyphs">SOLAR,</tspan>  <tspan x="537.9" textLength="20.6" lengthAdjust="spacingAndGlyphs">256</tspan> <tspan x="564.7" textLength="53.8" lengthAdjust="spacingAndGlyphs">Channels,</tspan>        <tspan x="666.8" textLength="4.7" lengthAdjust="spacingAndGlyphs">1</tspan> <tspan x="678.8" textLength="38.1" lengthAdjust="spacingAndGlyphs">ch/bin</tspan></text>
<text y="668.8" font-size="12" xml:space="preserve"><tspan x="368.1" textLength="49.4" lengthAdjust="spacingAndGlyphs">Directory</tspan> <tspan x="423.3" textLength="9.9" lengthAdjust="spacingAndGlyphs">=</tspan> <tspan x="439.5" textLength="302.0" lengthAdjust="spacingAndGlyphs">/near/xdr/XRS/2001/01-01/Xdaily-01_14_01out/</tspan></text>
</g>
</svg>
</body></html>
